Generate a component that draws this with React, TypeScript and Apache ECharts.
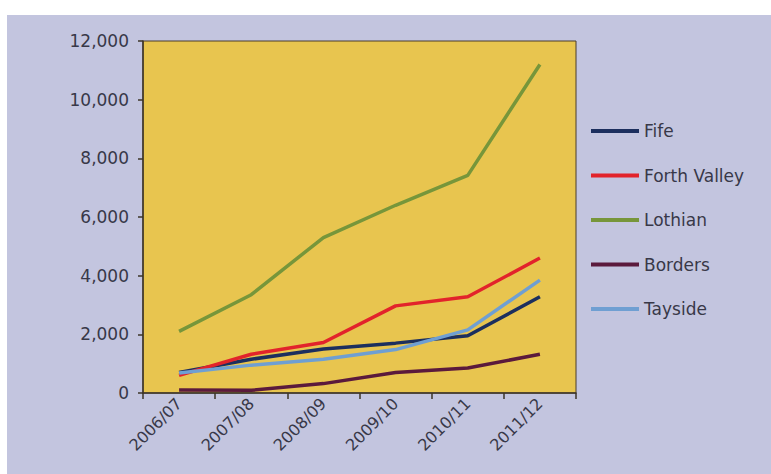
import React, { useEffect, useRef } from "react";
import * as echarts from "echarts";

const categories = ["2006/07", "2007/08", "2008/09", "2009/10", "2010/11", "2011/12"];
const fife = [700, 1150, 1500, 1700, 1950, 3280];
const forthValley = [600, 1320, 1720, 2970, 3280, 4600];
const lothian = [2100, 3350, 5300, 6400, 7420, 11200];
const borders = [100, 90, 320, 700, 850, 1320];
const tayside = [680, 950, 1150, 1480, 2150, 3850];
const seriesNames = ["Fife", "Forth Valley", "Lothian", "Borders", "Tayside"];
const seriesColors = ["#1c2f5e", "#e2232b", "#77963a", "#5b1a3c", "#6f9fd2"];

const FONT = "'DejaVu Sans', sans-serif";
const TEXT = "#383848";

export default function App() {
  const ref = useRef<HTMLDivElement>(null);
  useEffect(() => {
    if (!ref.current) return;
    const chart = echarts.init(ref.current, undefined, { renderer: "svg" });
    const data = [fife, forthValley, lothian, borders, tayside];
    chart.setOption({
      animation: false,
      backgroundColor: "#ffffff",
      graphic: [
        {
          type: "rect",
          z: -10,
          silent: true,
          shape: { x: 7, y: 15, width: 771, height: 474 },
          style: { fill: "#c3c5df" },
        },
      ],
      grid: {
        left: 143,
        right: 195,
        top: 41,
        bottom: 81,
        show: true,
        backgroundColor: "#e8c54f",
        borderColor: "#4a3d2a",
        borderWidth: 1,
      },
      legend: {
        orient: "vertical",
        left: 591,
        top: 122,
        padding: 0,
        itemWidth: 48,
        itemHeight: 4,
        itemGap: 26.5,
        icon: "rect",
        textStyle: { fontFamily: FONT, fontSize: 17, color: TEXT, lineHeight: 18 },
        data: seriesNames,
      },
      xAxis: {
        type: "category",
        data: categories,
        boundaryGap: true,
        axisLine: { lineStyle: { color: "#3d3528", width: 1.5 } },
        axisTick: { show: true, length: 6, lineStyle: { color: "#3d3528", width: 1.5 } },
        axisLabel: {
          rotate: 45,
          fontFamily: FONT,
          fontSize: 16,
          color: TEXT,
          margin: 8,
          interval: 0,
        },
      },
      yAxis: {
        type: "value",
        min: 0,
        max: 12000,
        interval: 2000,
        splitLine: { show: false },
        axisLine: { show: true, lineStyle: { color: "#3d3528", width: 1.5 } },
        axisTick: { show: true, length: 5, lineStyle: { color: "#3d3528", width: 1.5 } },
        axisLabel: {
          fontFamily: FONT,
          fontSize: 17,
          color: TEXT,
          margin: 14,
          formatter: (v: number) => v.toLocaleString("en-US"),
        },
      },
      series: seriesNames.map((name, i) => ({
        name,
        type: "line",
        data: data[i],
        symbol: "none",
        color: seriesColors[i],
        lineStyle: { width: 3.5, color: seriesColors[i] },
      })),
    });
    return () => chart.dispose();
  }, []);
  return (
    <div
      ref={ref}
      style={{ position: "fixed", left: 0, top: 0, width: 771, height: 474 }}
    />
  );
}
